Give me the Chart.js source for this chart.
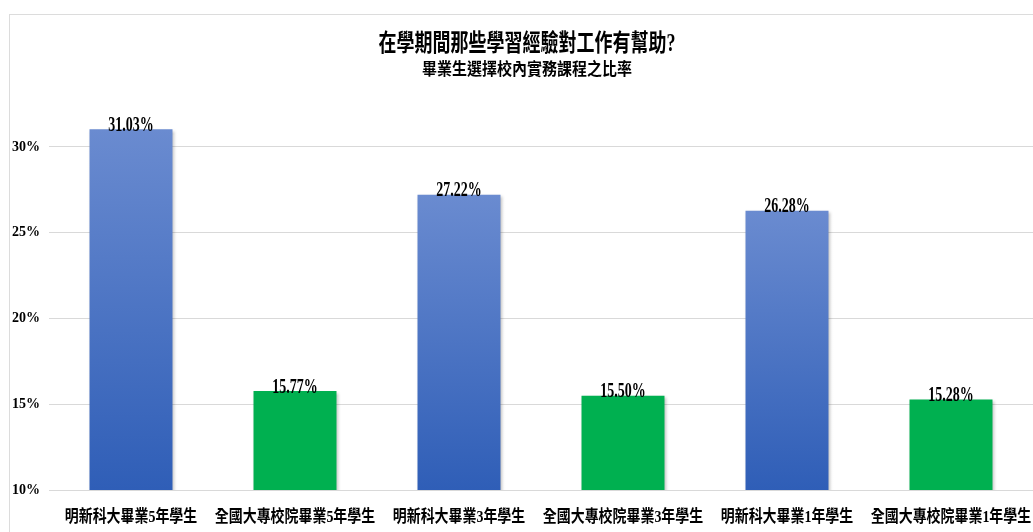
<!DOCTYPE html>
<html>
<head>
<meta charset="utf-8">
<script src="https://cdn.jsdelivr.net/npm/chart.js@4.4.1/dist/chart.umd.min.js"></script>
<style>
  html, body { margin: 0; padding: 0; background: #fff; overflow: hidden; }
  #wrap { position: absolute; left: 0; top: 0; width: 1033px; height: 532px; }
</style>
</head>
<body>
<div id="wrap"><canvas id="c" width="1033" height="532"></canvas></div>
<script>
const titleText = '在學期間那些學習經驗對工作有幫助?';
const subtitleText = '畢業生選擇校內實務課程之比率';
const categories = [
  '明新科大畢業5年學生', '全國大專校院畢業5年學生',
  '明新科大畢業3年學生', '全國大專校院畢業3年學生',
  '明新科大畢業1年學生', '全國大專校院畢業1年學生'
];
const values = [31.03, 15.77, 27.22, 15.50, 26.28, 15.28];
const barKinds = ['mingxin', 'national', 'mingxin', 'national', 'mingxin', 'national'];
const yMin = 10, yMax = 33, yStep = 5;

const CJK = '"Liberation Serif", "Noto Sans CJK TC", serif';

function barColor(context) {
  const i = context.dataIndex;
  if (barKinds[i] === 'national') return '#00b050';
  const chart = context.chart;
  const y = chart.scales && chart.scales.y;
  if (!chart.chartArea || !y) return '#4a73c4';
  const top = y.getPixelForValue(values[i]);
  const bottom = y.getPixelForValue(yMin);
  const g = chart.ctx.createLinearGradient(0, top, 0, bottom);
  g.addColorStop(0, '#6a8bd0');
  g.addColorStop(1, '#2f5eb7');
  return g;
}

const framePlugin = {
  id: 'frame',
  beforeDraw(chart) {
    const ctx = chart.ctx;
    ctx.save();
    ctx.fillStyle = '#ffffff';
    ctx.fillRect(0, 0, chart.width, chart.height);
    ctx.strokeStyle = '#dcdcdc';
    ctx.lineWidth = 1;
    ctx.strokeRect(9.5, 14.5, 1040, 540);
    ctx.restore();
  }
};

const titlePlugin = {
  id: 'stretchTitle',
  afterDraw(chart) {
    const ctx = chart.ctx;
    ctx.save();
    ctx.fillStyle = '#000';
    ctx.textAlign = 'center';
    ctx.textBaseline = 'middle';
    ctx.translate(527, 45);
    ctx.scale(1, 1.35);
    ctx.font = 'bold 18px ' + CJK;
    ctx.fillText(titleText, 0, 0);
    ctx.restore();
    ctx.save();
    ctx.fillStyle = '#000';
    ctx.textAlign = 'center';
    ctx.textBaseline = 'middle';
    ctx.translate(527, 71);
    ctx.scale(1, 1.1);
    ctx.font = 'bold 15px ' + CJK;
    ctx.fillText(subtitleText, 0, 0);
    ctx.restore();
  }
};

const shadowPlugin = {
  id: 'barShadow',
  beforeDatasetsDraw(chart) {
    const ctx = chart.ctx;
    ctx.save();
    ctx.shadowColor = 'rgba(0,0,0,0.25)';
    ctx.shadowBlur = 3;
    ctx.shadowOffsetX = 1.5;
    ctx.shadowOffsetY = 1.5;
  },
  afterDatasetsDraw(chart) {
    chart.ctx.restore();
  }
};

const labelPlugin = {
  id: 'valueLabels',
  afterDatasetsDraw(chart) {
    const ctx = chart.ctx;
    const meta = chart.getDatasetMeta(0);
    const xs = chart.scales.x;
    ctx.save();
    ctx.fillStyle = '#000';
    ctx.textAlign = 'center';
    meta.data.forEach((bar, i) => {
      ctx.save();
      ctx.textBaseline = 'alphabetic';
      ctx.translate(bar.x, bar.y + 1.5);
      ctx.scale(1, 1.45);
      ctx.font = 'bold 14px "Liberation Serif", serif';
      ctx.fillText(values[i].toFixed(2) + '%', 0, 0);
      ctx.restore();
    });
    categories.forEach((lab, i) => {
      ctx.save();
      ctx.textBaseline = 'middle';
      ctx.translate(xs.getPixelForValue(i), 518);
      ctx.scale(0.93, 1.15);
      ctx.font = 'bold 15px ' + CJK;
      ctx.fillText(lab, 0, 0);
      ctx.restore();
    });
    ctx.restore();
  }
};

new Chart(document.getElementById('c'), {
  type: 'bar',
  data: {
    labels: categories,
    datasets: [{
      data: values,
      backgroundColor: barColor,
      borderWidth: 0,
      barPercentage: 0.506,
      categoryPercentage: 1.0
    }]
  },
  options: {
    responsive: false,
    animation: false,
    devicePixelRatio: 1,
    layout: { padding: { top: 95.5, left: 0, right: 0, bottom: 0 } },
    plugins: {
      legend: { display: false },
      title: { display: false },
      tooltip: { enabled: false }
    },
    scales: {
      x: {
        grid: { display: false, drawTicks: false },
        border: { display: false },
        ticks: { display: false },
        afterFit(scale) { scale.height = 42; }
      },
      y: {
        min: yMin,
        max: yMax,
        border: { display: false },
        grid: {
          drawTicks: false,
          color: (ctx) => (ctx.tick && ctx.tick.value % yStep === 0) ? '#d9d9d9' : 'rgba(0,0,0,0)',
          lineWidth: 1
        },
        ticks: {
          stepSize: yStep,
          color: '#000',
          padding: 9,
          font: { family: '"Liberation Serif", serif', size: 14, weight: 'bold' },
          callback: (v) => (v % yStep === 0) ? v + '%' : ''
        },
        afterFit(scale) { scale.width = 49; }
      }
    }
  },
  plugins: [framePlugin, shadowPlugin, labelPlugin, titlePlugin]
});
</script>
</body>
</html>
